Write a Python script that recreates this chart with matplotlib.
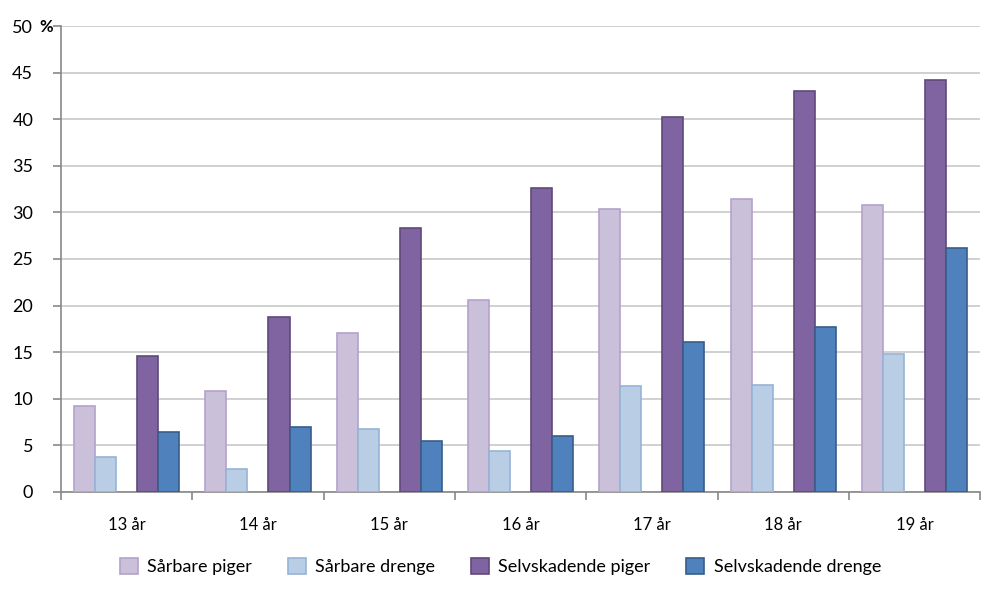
import numpy as np
import matplotlib.pyplot as plt

plt.rcParams['font.family'] = ['Lato', 'DejaVu Sans']

ages = ["13 år", "14 år", "15 år", "16 år", "17 år", "18 år", "19 år"]
saarbare_piger = [9.2, 10.8, 17.1, 20.6, 30.4, 31.4, 30.8]
saarbare_drenge = [3.8, 2.5, 6.8, 4.4, 11.4, 11.5, 14.8]
selvskad_piger = [14.6, 18.8, 28.3, 32.6, 40.2, 43.0, 44.2]
selvskad_drenge = [6.4, 7.0, 5.5, 6.0, 16.1, 17.7, 26.2]

series = [
    ("Sårbare piger", saarbare_piger, "#CBC0DA", "#B3A2CC", -2),
    ("Sårbare drenge", saarbare_drenge, "#B9CDE5", "#95B3D7", -1),
    ("Selvskadende piger", selvskad_piger, "#8064A2", "#5F4A7A", 1),
    ("Selvskadende drenge", selvskad_drenge, "#4F81BD", "#385D8A", 2),
]

fig = plt.figure(figsize=(9.81, 5.98), dpi=100)
ax = fig.add_axes([0.0622, 0.1773, 0.937, 0.7792])

x = np.arange(len(ages)) + 0.5
w = 0.16
for name, vals, fc, ec, slot in series:
    ax.bar(x + slot * w, vals, width=w, color=fc, edgecolor=ec, linewidth=1.2,
           label=name, zorder=3)

ax.set_xlim(0, 7)
ax.set_ylim(0, 50)
ax.set_yticks(range(0, 51, 5))
ax.set_yticklabels([str(v) for v in range(0, 51, 5)], fontsize=13)
ax.yaxis.grid(True, color="#C8C8C8", linewidth=1.2, zorder=0)

ax.set_xticks(range(0, 8))
ax.set_xticklabels([])
ax.set_xticks(x, minor=True)
ax.set_xticklabels(ages, minor=True, fontsize=12)
ax.tick_params(axis="x", which="minor", length=0, pad=18)
ax.tick_params(axis="x", which="major", length=6, color="#888888", width=1.2)
ax.tick_params(axis="y", length=6, color="#888888", width=1.2, pad=14)

for s in ["top", "right"]:
    ax.spines[s].set_visible(False)
for s in ["left", "bottom"]:
    ax.spines[s].set_color("#888888")
    ax.spines[s].set_linewidth(1.2)

fig.text(0.040, 0.955, "%", fontsize=12, fontweight="bold", va="center", ha="left")

fig.legend(loc="center", bbox_to_anchor=(0.51, 0.053), ncol=4, frameon=False,
           fontsize=13, handlelength=1.0, handleheight=1.0, columnspacing=2.0,
           handletextpad=0.5)

fig.savefig("out.png", dpi=100)
